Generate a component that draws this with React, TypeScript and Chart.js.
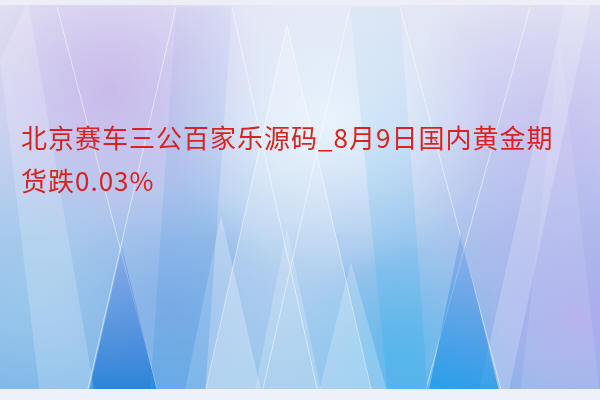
import React, { useEffect, useRef } from "react";
import Chart from "chart.js/auto";

// headline text, two lines as in the picture
const titleLines = ["北京赛车三公百家乐源码_8月9日国内黄金期", "货跌0.03%"];

// light triangles (apex first), in picture pixels
const triCentre = [{ x: 287, y: 25 }, { x: 205, y: 395 }, { x: 372, y: 395 }];
const triLeft = [{ x: 221, y: 215 }, { x: 184, y: 395 }, { x: 262, y: 395 }];
const triMid = [{ x: 287, y: 228 }, { x: 254, y: 395 }, { x: 322, y: 395 }];
const triRight = [{ x: 351, y: 262 }, { x: 318, y: 395 }, { x: 388, y: 395 }];
const triFarRight = [{ x: 560, y: 40 }, { x: 520, y: 395 }, { x: 600, y: 395 }];

// dark diamonds below the crossings
const darkLeft = [{ x: 122, y: 247 }, { x: 88, y: 395 }, { x: 158, y: 395 }];
const darkRight = [{ x: 461, y: 233 }, { x: 428, y: 395 }, { x: 500, y: 395 }];

// medium-blue bands
const blueMidLeft = [{ x: 176, y: 7 }, { x: 232, y: 7 }, { x: 205, y: 395 }, { x: 150, y: 395 }];
const blueMidRight = [{ x: 350, y: 7 }, { x: 400, y: 7 }, { x: 428, y: 395 }, { x: 388, y: 395 }];

// light bands
const bandLeft = [{ x: 0, y: 60 }, { x: 28, y: 0 }, { x: 95, y: 395 }, { x: 40, y: 395 }];
const bandRight = [{ x: 566, y: 0 }, { x: 592, y: 0 }, { x: 508, y: 395 }, { x: 478, y: 395 }];

// thin white lines
const lineA = [{ x: 57, y: 7 }, { x: 158, y: 393 }];
const lineB = [{ x: 176, y: 7 }, { x: 87, y: 393 }];
const lineC = [{ x: 400, y: 7 }, { x: 502, y: 393 }];
const lineD = [{ x: 530, y: 7 }, { x: 425, y: 393 }];
const lineE = [{ x: 287, y: 25 }, { x: 205, y: 393 }];
const lineF = [{ x: 287, y: 25 }, { x: 372, y: 393 }];
const lineG = [{ x: 232, y: 7 }, { x: 318, y: 393 }];
const lineH = [{ x: 350, y: 7 }, { x: 262, y: 393 }];

type Pt = { x: number; y: number };
const closed = (pts: Pt[]) => [...pts, pts[0]];

const backdrop = {
  id: "backdrop",
  beforeDraw(chart: Chart) {
    const { ctx, width, height } = chart;
    ctx.save();
    const g = ctx.createLinearGradient(0, 0, 0, height);
    g.addColorStop(0, "#e4e6f4");
    g.addColorStop(0.3, "#cfdcf2");
    g.addColorStop(0.6, "#a6c7ec");
    g.addColorStop(1, "#7ab6e8");
    ctx.fillStyle = g;
    ctx.fillRect(0, 0, width, height);
    const glow = (x: number, y: number, r: number, c: string) => {
      const rg = ctx.createRadialGradient(x, y, 0, x, y, r);
      rg.addColorStop(0, c);
      rg.addColorStop(1, c.replace(/[\d.]+\)$/, "0)"));
      ctx.fillStyle = rg;
      ctx.fillRect(0, 0, width, height);
    };
    glow(110, 90, 160, "rgba(196,166,232,0.65)");
    glow(560, 140, 170, "rgba(190,170,238,0.55)");
    glow(580, 320, 160, "rgba(180,168,236,0.85)");
    glow(330, 120, 160, "rgba(238,248,255,0.8)");
    glow(30, 290, 120, "rgba(160,205,236,0.5)");
    glow(400, 350, 110, "rgba(70,185,238,0.5)");
    glow(170, 300, 110, "rgba(110,150,225,0.35)");
    ctx.restore();
  },
  afterDraw(chart: Chart) {
    const { ctx, width, height } = chart;
    ctx.save();
    ctx.fillStyle = "rgba(238,240,246,0.9)";
    ctx.fillRect(0, 0, width, 5);
    ctx.fillStyle = "#eef2f8";
    ctx.fillRect(0, height - 11, width, 11);
    ctx.restore();
  },
};

const shape = (data: Pt[], color: any) => ({
  data: closed(data),
  backgroundColor: color,
  borderWidth: 0,
  pointRadius: 0,
  fill: "shape" as const,
});

// vertical fade from the top of a shape to the bottom of the picture
const fade = (pts: Pt[], top: string, bottom: string) => (c: any) => {
  const { ctx, chartArea, scales } = c.chart;
  if (!chartArea) return bottom;
  const y0 = scales.y.getPixelForValue(pts[0].y);
  const g = ctx.createLinearGradient(0, y0, 0, chartArea.bottom);
  g.addColorStop(0, top);
  g.addColorStop(1, bottom);
  return g;
};

const edge = (data: Pt[]) => ({
  data,
  borderColor: "rgba(255,255,255,0.5)",
  borderWidth: 1,
  pointRadius: 0,
  fill: false,
});

export default function App() {
  const ref = useRef<HTMLCanvasElement | null>(null);
  useEffect(() => {
    document.body.style.margin = "0";
    if (!ref.current) return;
    const chart = new Chart(ref.current, {
      type: "line",
      data: {
        datasets: [
          shape(bandLeft, "rgba(255,255,255,0.18)"),
          shape(blueMidLeft, fade(blueMidLeft, "rgba(150,170,230,0.1)", "rgba(60,150,225,0.35)")),
          shape(blueMidRight, fade(blueMidRight, "rgba(160,200,240,0.1)", "rgba(40,170,235,0.35)")),
          shape(triCentre, "rgba(255,255,255,0.2)"),
          shape(darkLeft, fade(darkLeft, "rgba(90,130,220,0.3)", "rgba(15,115,210,0.8)")),
          shape(darkRight, fade(darkRight, "rgba(95,140,225,0.3)", "rgba(10,150,232,0.75)")),
          shape(triLeft, "rgba(255,255,255,0.25)"),
          shape(triMid, "rgba(255,255,255,0.2)"),
          shape(triRight, "rgba(255,255,255,0.22)"),
          shape(triFarRight, "rgba(255,255,255,0.1)"),
          shape(bandRight, "rgba(255,255,255,0.2)"),
          edge(lineA),
          edge(lineB),
          edge(lineC),
          edge(lineD),
          edge(lineE),
          edge(lineF),
          edge(lineG),
          edge(lineH),
        ],
      },
      options: {
        animation: false,
        responsive: false,
        events: [],
        layout: { padding: 0 },
        elements: { line: { tension: 0 } },
        scales: {
          x: { type: "linear", min: 0, max: 600, display: false },
          y: { type: "linear", min: 0, max: 400, reverse: true, display: false },
        },
        plugins: { legend: { display: false }, tooltip: { enabled: false } },
      },
      plugins: [backdrop],
    });
    return () => chart.destroy();
  }, []);
  return (
    <div style={{ position: "fixed", left: 0, top: 0, width: 600, height: 400, overflow: "hidden" }}>
      <canvas ref={ref} width={600} height={400} style={{ position: "absolute", left: 0, top: 0 }} />
      <div
        style={{
          position: "absolute",
          left: 21,
          top: 115,
          fontFamily: '"Noto Sans CJK SC", "Noto Sans", sans-serif',
          fontSize: 26,
          lineHeight: "43px",
          letterSpacing: 1,
          color: "#da2320",
          whiteSpace: "nowrap",
        }}
      >
        {titleLines.map((t) => (
          <div key={t}>{t}</div>
        ))}
      </div>
    </div>
  );
}
